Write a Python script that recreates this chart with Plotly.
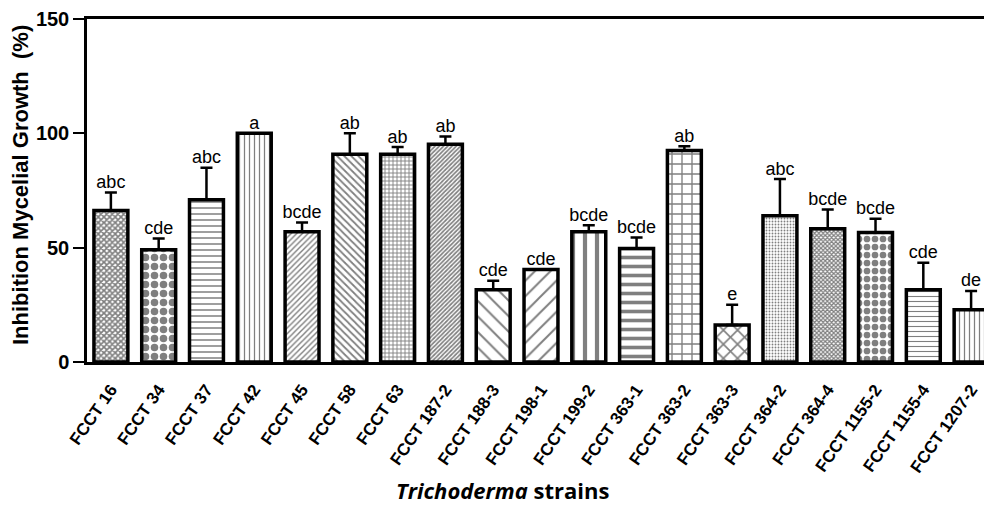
import plotly.graph_objects as go

strains = ["FCCT 16", "FCCT 34", "FCCT 37", "FCCT 42", "FCCT 45", "FCCT 58", "FCCT 63",
           "FCCT 187-2", "FCCT 188-3", "FCCT 198-1", "FCCT 199-2", "FCCT 363-1",
           "FCCT 363-2", "FCCT 363-3", "FCCT 364-2", "FCCT 364-4", "FCCT 1155-2",
           "FCCT 1155-4", "FCCT 1207-2"]
inhibition = [66.2, 49.1, 71.0, 100.0, 57.0, 90.8, 90.8, 95.2, 31.6, 40.4, 57.0, 49.6,
              92.5, 16.2, 64.0, 58.3, 56.6, 31.6, 22.8]
error_plus = [7.9, 4.9, 14.0, 0.0, 4.0, 9.2, 3.2, 3.4, 3.9, 0.0, 2.8, 4.9,
              1.9, 8.8, 16.0, 8.4, 6.0, 11.8, 8.3]
letters = ["abc", "cde", "abc", "a", "bcde", "ab", "ab", "ab", "cde", "cde", "bcde", "bcde",
           "ab", "e", "abc", "bcde", "bcde", "cde", "de"]
y_ticks = [0, 50, 100, 150]

pattern_shapes = ["x", ".", "-", "|", "/", "\\", "+", "/", "\\", "/", "|", "-",
                  "+", "x", ".", "x", ".", "-", "|"]
pattern_sizes = [4, 9, 6, 5, 4, 5, 4, 3, 11, 11, 12, 9, 10, 10, 3, 3, 8, 5, 5]
pattern_solid = [0.65, 0.55, 0.25, 0.25, 0.35, 0.35, 0.4, 0.55, 0.18, 0.18, 0.35, 0.4,
                 0.25, 0.3, 0.3, 0.65, 0.55, 0.22, 0.25]

x = list(range(len(strains)))

fig = go.Figure()
fig.add_trace(go.Bar(
    x=x, y=inhibition,
    width=0.71,
    marker=dict(color="white",
                line=dict(color="black", width=3.5),
                pattern=dict(shape=pattern_shapes, size=pattern_sizes,
                             solidity=pattern_solid, fgcolor="black",
                             bgcolor="white", fillmode="overlay")),
    error_y=dict(type="data", symmetric=False, array=error_plus,
                 arrayminus=[0] * len(strains), color="black", thickness=2.5, width=6),
    showlegend=False,
))

tops = [v + e for v, e in zip(inhibition, error_plus)]
fig.add_trace(go.Scatter(
    x=x, y=tops, mode="text", text=letters, textposition="top center",
    textfont=dict(family="Liberation Sans, Arial", size=18, color="black"),
    showlegend=False, cliponaxis=False,
))

fig.update_layout(
    width=984, height=506,
    margin=dict(l=87, r=0, t=19, b=144),
    paper_bgcolor="white", plot_bgcolor="white",
    xaxis=dict(
        range=[-0.5, 18.27], automargin=False,
        tickmode="array", tickvals=x, ticktext=strains,
        tickangle=-55, ticklabelstandoff=8,
        tickfont=dict(family="Liberation Sans, Arial", size=17, color="black", weight="bold"),
        showline=True, linecolor="black", linewidth=3, mirror=True,
        ticks="", showgrid=False, zeroline=False,
    ),
    yaxis=dict(
        range=[0, 150], automargin=False,
        tickmode="array", tickvals=y_ticks,
        tickfont=dict(family="Liberation Sans, Arial", size=20, color="black", weight="bold"),
        showline=True, linecolor="black", linewidth=2.5,
        ticks="outside", ticklen=11, tickwidth=2, tickcolor="black",
        showgrid=False, zeroline=False,
    ),
    annotations=[
        dict(text="Inhibition Mycelial Growth  (%)", textangle=-90,
             xref="paper", yref="paper", x=-0.0747, y=0.516,
             xanchor="center", yanchor="middle", showarrow=False,
             font=dict(family="Liberation Sans, Arial", size=22, color="black", weight="bold")),
        dict(text="<i>Trichoderma</i> strains",
             xref="paper", yref="paper", x=0.463, y=-0.373,
             xanchor="center", yanchor="middle", showarrow=False,
             font=dict(family="Open Sans, Liberation Sans", size=22, color="black", weight="bold")),
    ],
)

fig.write_html("out.html", config={"displayModeBar": False},
               post_script="document.body.style.margin='0';document.body.style.overflow='hidden';")
